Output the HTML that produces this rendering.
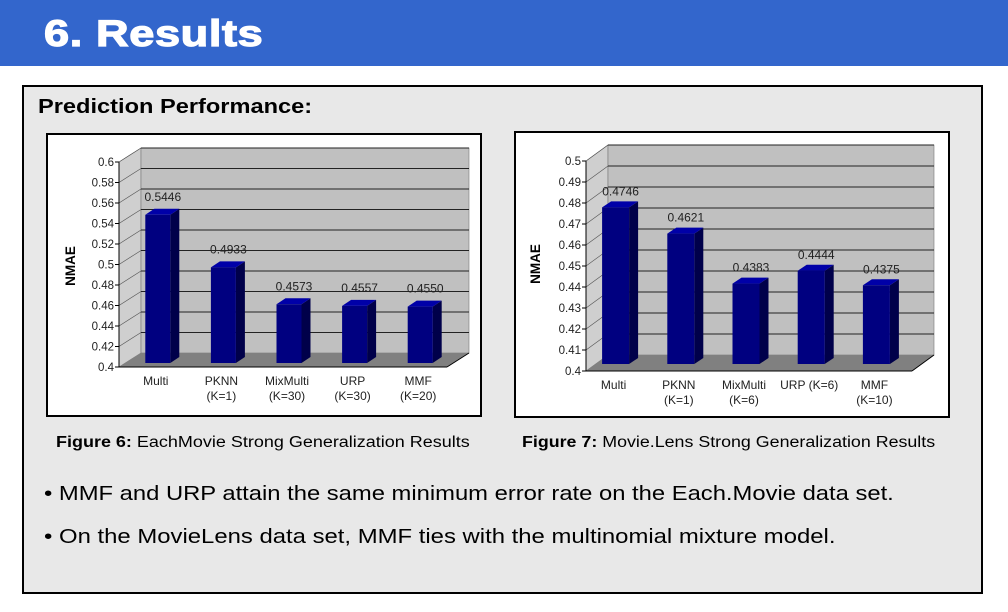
<!DOCTYPE html>
<html><head><meta charset="utf-8">
<style>
body{margin:0;width:1008px;height:612px;background:#fff;position:relative;overflow:hidden;font-family:"Liberation Sans",Arial,sans-serif}
.hdr{position:absolute;left:0;top:0;width:1008px;height:66px;background:#3366cc}
.hdr span{position:absolute;left:44px;top:14px;color:#fff;font-weight:bold;font-size:37px;line-height:40px;transform:scaleX(1.22);transform-origin:0 0;-webkit-text-stroke:1.2px #fff;letter-spacing:0.5px}
.panel{position:absolute;left:22px;top:85px;width:957px;height:505px;border:2px solid #000;background:#e8e8e8}
.t{position:absolute;white-space:nowrap;color:#000;transform-origin:0 0}
svg{position:absolute;left:0;top:0}
</style></head><body>
<div class="hdr"><span>6. Results</span></div>
<div class="panel"></div>
<div class="t" style="left:38px;top:96px;font-size:20px;font-weight:bold;transform:scaleX(1.18)">Prediction Performance:</div>
<div class="t" style="left:56px;top:434px;font-size:15.5px;transform:scaleX(1.16)"><b>Figure 6:</b> EachMovie Strong Generalization Results</div>
<div class="t" style="left:522px;top:434px;font-size:15.5px;transform:scaleX(1.15)"><b>Figure 7:</b> Movie.Lens Strong Generalization Results</div>
<div class="t" style="left:44px;top:482px;font-size:20.5px;transform:scaleX(1.16)">• MMF and URP attain the same minimum error rate on the Each.Movie data set.</div>
<div class="t" style="left:44px;top:525px;font-size:20.5px;transform:scaleX(1.165)">• On the MovieLens data set, MMF ties with the multinomial mixture model.</div>
<svg id="s" width="1008" height="612"></svg>
<script>
const cats1=[["Multi"],["PKNN","(K=1)"],["MixMulti","(K=30)"],["URP","(K=30)"],["MMF","(K=20)"]];
const vals1=[0.5446,0.4933,0.4573,0.4557,0.4550];
const labels1=["0.5446","0.4933","0.4573","0.4557","0.4550"];
const ticks1=[0.4,0.42,0.44,0.46,0.48,0.5,0.52,0.54,0.56,0.58,0.6];
const tickLabels1=["0.4","0.42","0.44","0.46","0.48","0.5","0.52","0.54","0.56","0.58","0.6"];
const cats2=[["Multi"],["PKNN","(K=1)"],["MixMulti","(K=6)"],["URP (K=6)"],["MMF","(K=10)"]];
const vals2=[0.4746,0.4621,0.4383,0.4444,0.4375];
const labels2=["0.4746","0.4621","0.4383","0.4444","0.4375"];
const ticks2=[0.4,0.41,0.42,0.43,0.44,0.45,0.46,0.47,0.48,0.49,0.5];
const tickLabels2=["0.4","0.41","0.42","0.43","0.44","0.45","0.46","0.47","0.48","0.49","0.5"];
const NS="http://www.w3.org/2000/svg";
const svg=document.getElementById('s');
function el(t,a,p){const e=document.createElementNS(NS,t);for(const k in a)e.setAttribute(k,a[k]);(p||svg).appendChild(e);return e;}
function chart(o){
  const g=el('g',{});
  
  
  const box=el('rect',{x:o.bx,y:o.by,width:o.bw,height:o.bh,fill:'#fff',stroke:'#000','stroke-width':2},g);
  
  
  const y=v=>o.y0-(v-o.vmin)*o.k;
  const L=o.x0,R=o.x1,dx=22,dy=o.dy,top=y(o.vmax);
  el('polygon',{points:`${L},${o.y0} ${L},${top} ${L+dx},${top+dy} ${L+dx},${o.y0+dy}`,fill:'#cfcfcf',stroke:'#777','stroke-width':0.6},g);
  el('rect',{x:L+dx,y:top+dy,width:R+dx-(L+dx),height:o.y0-top,fill:'#c0c0c0',stroke:'#777','stroke-width':0.6},g);
  el('polygon',{points:`${L},${o.y0} ${R},${o.y0} ${R+dx},${o.y0+dy} ${L+dx},${o.y0+dy}`,fill:'#808080'},g);
  o.ticks.forEach((t,i)=>{
    const yy=y(t);
    if(i>0){
      el('line',{x1:L+dx,y1:yy+dy,x2:R+dx,y2:yy+dy,stroke:'#222','stroke-width':1},g);
      el('line',{x1:L,y1:yy,x2:L+dx,y2:yy+dy,stroke:'#555','stroke-width':0.6},g);
    }
    el('line',{x1:L-4,y1:yy,x2:L,y2:yy,stroke:'#000'},g);
    const tx=el('text',{x:L-5,y:yy+4,'text-anchor':'end','font-size':11.5,fill:'#222'},g);
    tx.textContent=o.tickLabels[i];
    
    
  });
  el('line',{x1:L,y1:o.y0,x2:L,y2:top,stroke:'#000'},g);
  el('line',{x1:L,y1:o.y0,x2:R,y2:o.y0,stroke:'#000'},g);
  el('line',{x1:R,y1:o.y0,x2:R+dx,y2:o.y0+dy,stroke:'#000'},g);
  const yt=el('text',{x:0,y:0,'font-size':13.5,'font-weight':'bold','text-anchor':'middle',transform:`translate(${o.nx},${o.ny}) rotate(-90)`},g);
  yt.textContent='NMAE';
  
  
  const step=(R-L)/o.vals.length;
  o.vals.forEach((v,i)=>{
    const cx=L+step*(i+0.5)+o.shift, w=o.barW, x0=cx-w/2;
    const yb=o.y0-o.off, yt2=y(v)-o.off, ddx=9, ddy=-6;
    const b=el('g',{},g);
    
    
    el('polygon',{points:`${x0+w},${yb} ${x0+w},${yt2} ${x0+w+ddx},${yt2+ddy} ${x0+w+ddx},${yb+ddy}`,fill:'#00004a'},b);
    el('polygon',{points:`${x0},${yt2} ${x0+w},${yt2} ${x0+w+ddx},${yt2+ddy} ${x0+ddx},${yt2+ddy}`,fill:'#0000a8'},b);
    el('rect',{x:x0,y:yt2,width:w,height:yb-yt2,fill:'#000080'},b);
    const lb=el('text',{x:cx+5,y:yt2-o.lo,'text-anchor':'middle','font-size':12,fill:'#222'},g);
    lb.textContent=o.labels[i];
    
    
    o.cats[i].forEach((c,j)=>{
      const ct=el('text',{x:cx-2,y:o.y0+18+j*15,'text-anchor':'middle','font-size':12,fill:'#222'},g);
      ct.textContent=c;
      
      
    });
  });
}
chart({name:'chart-eachmovie',bx:47,by:134,bw:434,bh:282,x0:119,x1:447,y0:367,dy:-14,vmin:0.4,vmax:0.6,k:1025,
  ticks:ticks1,tickLabels:tickLabels1,vals:vals1,labels:labels1,cats:cats1,barW:25,off:4,lo:14,shift:6,nx:75,ny:266});
chart({name:'chart-movielens',bx:515,by:132,bw:434,bh:285,x0:586,x1:912,y0:371,dy:-16,vmin:0.4,vmax:0.5,k:2100,
  ticks:ticks2,tickLabels:tickLabels2,vals:vals2,labels:labels2,cats:cats2,barW:27,off:7,lo:12,shift:-3,nx:540,ny:264});
</script>
</body></html>
